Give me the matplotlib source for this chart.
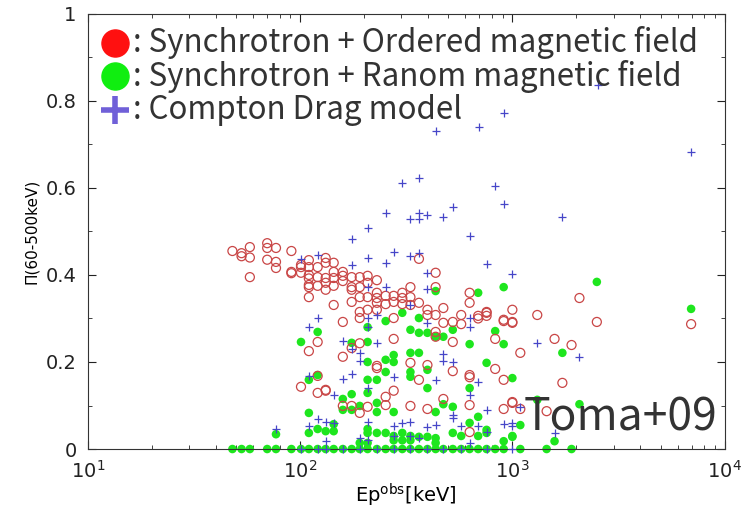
import matplotlib
matplotlib.use("Agg")
import matplotlib.pyplot as plt
from matplotlib.ticker import MultipleLocator

# Synchrotron + ordered magnetic field (open red circles)
ord_e = [48, 53, 53, 58, 58, 58, 70, 70, 70, 77, 77, 77, 91, 91, 91, 101, 101, 101,
         110, 110, 110, 110, 110, 110, 110, 121, 121, 121, 132, 132, 132, 132, 132,
         144, 144, 144, 144, 144, 159, 159, 159, 175, 175, 175, 175, 191, 191, 191,
         191, 191, 208, 208, 208, 208, 230, 230, 230, 230, 230, 253, 253, 276, 276,
         276, 303, 303, 303, 331, 331, 331, 363, 363, 398, 398, 435, 435, 435, 435,
         435, 473, 473, 524, 524, 574, 574, 629, 629, 690, 690, 756, 756, 756, 830,
         910, 910, 1000, 1000, 1000, 1090, 1310, 1580, 1900, 2070, 2500, 6950,
         110, 121, 101, 121, 132, 121, 159, 175, 191, 132, 159, 159, 175, 191, 208,
         230, 230, 253, 253, 276, 276, 331, 331, 363, 398, 398, 473, 524, 629, 629,
         629, 629, 830, 910, 1000, 1000, 910, 1720, 1450, 1090]
ord_p = [.455, .45, .443, .464, .44, .395, .473, .462, .435, .462, .43, .416, .455,
         .407, .404, .418, .405, .423, .434, .418, .4, .392, .377, .372, .349, .418,
         .395, .375, .439, .428, .393, .382, .366, .428, .407, .393, .375, .331, .407,
         .398, .386, .395, .372, .366, .338, .395, .372, .349, .315, .301, .398, .382,
         .349, .32, .388, .359, .347, .336, .32, .352, .333, .352, .338, .301, .359,
         .347, .333, .372, .349, .331, .437, .336, .32, .308, .405, .372, .308, .269,
         .258, .324, .29, .292, .246, .308, .287, .359, .336, .306, .3, .315, .306,
         .313, .253, .294, .297, .29, .32, .292, .221, .308, .253, .239, .347, .292,
         .287,
         .225, .246, .143, .129, .134, .168, .292, .232, .243, .136, .212, .099, .099,
         .083, .097, .191, .186, .12, .101, .253, .134, .198, .099, .159, .193, .092,
         .115, .179, .17, .165, .101, .039, .184, .159, .106, .108, .092, .152, .087,
         .092]

# Synchrotron + random magnetic field (filled green)
ran_e = [2500, 6950, 910, 830, 910, 1720, 756, 1000, 1310, 2070, 1090, 1580, 1000,
         910, 756, 435, 690, 303, 253, 363, 208, 331, 363, 398, 435, 524, 473, 101,
         121, 175, 208, 629, 276, 331, 363, 253, 208, 276, 398, 253, 331, 331, 208,
         230, 110, 121, 398, 629, 208, 175, 159, 191, 175, 159, 230, 230, 276, 435,
         473, 524, 690, 629, 110, 144, 208, 121, 132, 110, 77, 144, 208, 230, 253,
         276, 303, 331, 363, 398, 435, 524, 574, 690, 756, 1000, 191, 208, 276, 303,
         331, 435,
         48, 53, 58, 70, 77, 91, 101, 110, 121, 132, 144, 159, 175, 191, 208, 230,
         253, 276, 303, 331, 363, 398, 435, 473, 524, 574, 629, 690, 756, 830, 910,
         1090, 1450, 1900]
ran_p = [.384, .322, .372, .271, .241, .221, .198, .163, .113, .103, .055, .018,
         .028, .018, .044, .363, .359, .313, .294, .301, .28, .274, .267, .267, .258,
         .274, .258, .246, .269, .244, .246, .241, .216, .221, .221, .205, .2, .2,
         .182, .177, .177, .166, .159, .159, .159, .17, .14, .14, .129, .126, .115,
         .099, .09, .09, .106, .085, .085, .085, .103, .097, .074, .06, .083, .057,
         .046, .046, .041, .037, .034, .041, .037, .037, .037, .03, .037, .03, .028,
         .028, .025, .037, .03, .03, .037, .03, .014, .014, .02, .02, .02, .014,
         0, 0, 0, 0, 0, 0, 0, 0, 0, 0, 0, 0, 0, 0, 0, 0, 0, 0, 0, 0, 0, 0, 0, 0, 0,
         0, 0, 0, 0, 0, 0, 0, 0, 0]

# Compton drag model (blue pluses)
cd_e = [2530, 910, 695, 435, 6950, 363, 303, 830, 910, 253, 331, 363, 363, 398,
        473, 524, 1720, 208, 175, 629, 276, 331, 363, 208, 253, 175, 121, 101, 756,
        1000, 398, 398, 208, 253, 331, 230, 208, 208, 121, 110, 629, 398, 629, 159,
        230, 175, 191, 191, 473, 473, 524, 159, 175, 276, 435, 110, 690, 208, 144,
        629, 1310, 2070, 1090, 756, 524, 524, 121, 132, 110, 144, 208, 276, 303,
        331, 398, 435, 574, 690, 910, 1000, 1000, 1580, 77, 191, 132, 208, 629, 756,
        276, 331, 363,
        101, 121, 132, 159, 191, 230, 276, 331, 398, 473, 574, 756, 1000]
cd_p = [.837, .772, .74, .731, .683, .623, .611, .605, .563, .543, .529, .543, .529,
        .538, .533, .556, .533, .508, .483, .49, .453, .444, .451, .439, .428, .423,
        .446, .437, .425, .402, .405, .368, .372, .372, .331, .308, .301, .28, .301,
        .28, .301, .29, .28, .248, .244, .23, .221, .202, .218, .202, .2, .161, .172,
        .166, .159, .168, .154, .14, .124, .124, .244, .211, .097, .09, .078, .071,
        .069, .062, .053, .06, .062, .053, .06, .062, .051, .055, .053, .053, .057,
        .06, .053, .037, .046, .025, .018, .02, .014, .04, .03, .03, .025,
        0, 0, 0, 0, 0, 0, 0, 0, 0, 0, 0, 0, 0]

x_ticks = [10, 100, 1000, 10000]
x_labels = ["$10^1$", "$10^2$", "$10^3$", "$10^4$"]
y_ticks = [0, 0.2, 0.4, 0.6, 0.8, 1]
y_labels = ["0", "0.2", "0.4", "0.6", "0.8", "1"]

legend_labels = [": Synchrotron + Ordered magnetic field",
                 ": Synchrotron + Ranom magnetic field",
                 ": Compton Drag model"]

red = "#c94646"
green = "#1ee61e"
blue = "#4646c8"
big_font = ["Noto Sans CJK JP", "DejaVu Sans"]

fig = plt.figure(figsize=(7.44, 5.12), dpi=100)
ax = fig.add_axes([0.118, 0.123, 0.856, 0.850])

ax.scatter(ran_e, ran_p, s=38, color=green, edgecolors="none", zorder=2,
           clip_on=False)
ax.scatter(ord_e, ord_p, s=42, facecolors="none", edgecolors=red, linewidths=0.9,
           zorder=3)
ax.scatter(cd_e, cd_p, s=40, marker="+", color=blue, linewidths=0.9, zorder=4,
           clip_on=False)

ax.set_xscale("log")
ax.set_xlim(10, 10000)
ax.set_ylim(0, 1)
ax.set_xticks(x_ticks)
ax.set_xticklabels(x_labels)
ax.set_yticks(y_ticks)
ax.set_yticklabels(y_labels)
ax.yaxis.set_minor_locator(MultipleLocator(0.1))
ax.tick_params(which="both", direction="in", top=True, right=True,
               labelsize=14, colors="#222222", pad=8)
ax.tick_params(which="major", length=6)
ax.tick_params(which="minor", length=3)
for s in ax.spines.values():
    s.set_color("#333333")

ax.set_xlabel("Ep$^{\\mathregular{obs}}$[keV]", fontsize=14, labelpad=0)
ax.set_ylabel("\u03a0(60-500keV)", fontsize=11, labelpad=5)

# legend drawn as markers + text in axes coords
leg_y = [0.933, 0.857, 0.779]
ax.scatter([0.042], [leg_y[0]], s=380, color="#ff1010", transform=ax.transAxes,
           clip_on=False, zorder=6)
ax.scatter([0.042], [leg_y[1]], s=380, color="#10ee10", transform=ax.transAxes,
           clip_on=False, zorder=6)
ax.scatter([0.042], [leg_y[2]], s=380, marker="+", color="#7060d8", linewidths=4,
           transform=ax.transAxes, clip_on=False, zorder=6)
for yy, lab in zip(leg_y, legend_labels):
    ax.text(0.071, yy, lab, transform=ax.transAxes, fontsize=22.5,
            family=big_font, color="#333333", va="center", ha="left", zorder=6)

ax.text(0.988, 0.072, "Toma+09", transform=ax.transAxes, fontsize=32,
        family=big_font, color="#333333", va="center", ha="right", zorder=6)

fig.savefig("out.png", dpi=100)
